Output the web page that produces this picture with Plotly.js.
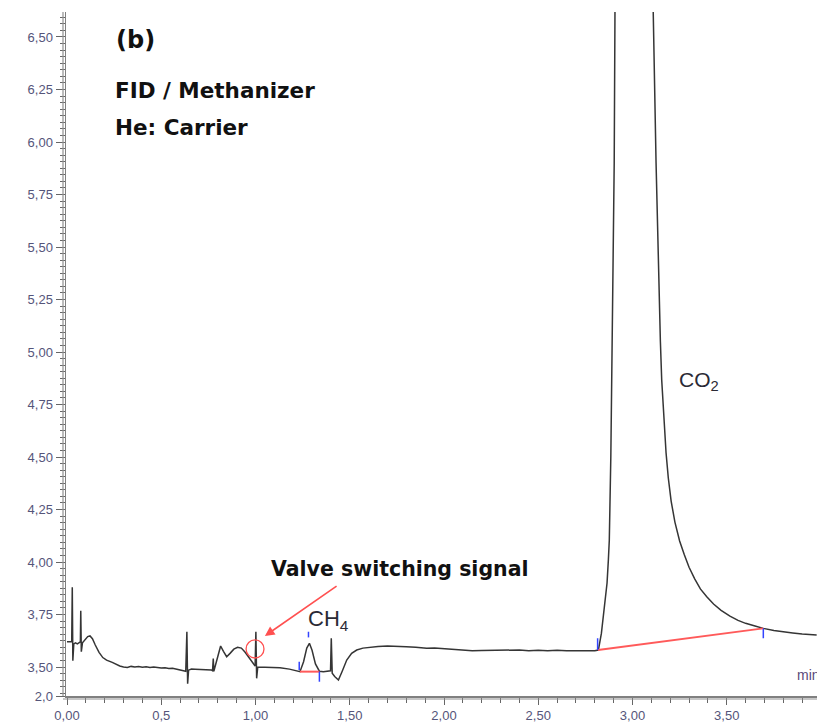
<!DOCTYPE html>
<html>
<head>
<meta charset="utf-8">
<script src="https://cdn.plot.ly/plotly-3.0.1.min.js"></script>
<style>html,body{margin:0;padding:0;background:#fff;overflow:hidden}#chart{width:817px;height:725px}</style>
</head>
<body>
<div id="chart"></div>
<script>
// Chromatogram signal (time in min, signal)
const timeMin = [0.000,0.015,0.025,0.028,0.031,0.036,0.045,0.055,0.068,0.071,0.073,0.076,0.082,0.095,0.110,0.122,0.135,0.150,0.170,0.190,0.210,0.240,0.260,0.280,0.300,0.320,0.340,0.360,0.380,0.400,0.420,0.440,0.460,0.480,0.500,0.520,0.540,0.560,0.580,0.600,0.620,0.630,0.636,0.640,0.645,0.660,0.680,0.700,0.720,0.740,0.765,0.772,0.776,0.779,0.785,0.800,0.815,0.830,0.847,0.865,0.885,0.905,0.925,0.945,0.962,0.985,0.998,1.002,1.006,1.012,1.040,1.080,1.130,1.180,1.220,1.236,1.255,1.272,1.286,1.300,1.318,1.339,1.360,1.380,1.398,1.402,1.407,1.420,1.440,1.460,1.484,1.510,1.537,1.570,1.607,1.650,1.700,1.749,1.800,1.850,1.908,1.950,2.000,2.050,2.100,2.150,2.200,2.250,2.300,2.350,2.400,2.450,2.500,2.550,2.600,2.650,2.700,2.750,2.800,2.819,2.835,2.845,2.854,2.865,2.872,2.877,2.885,2.892,2.898,2.903,2.907,2.915,2.950,2.990,3.040,3.080,3.110,3.125,3.141,3.148,3.155,3.165,3.178,3.190,3.205,3.225,3.250,3.275,3.300,3.330,3.360,3.394,3.430,3.470,3.517,3.560,3.600,3.650,3.694,3.750,3.800,3.850,3.900,3.977];
const signal = [3.620,3.622,3.620,3.880,3.530,3.610,3.615,3.610,3.617,3.620,3.768,3.573,3.615,3.630,3.645,3.648,3.635,3.605,3.570,3.545,3.533,3.522,3.512,3.505,3.500,3.498,3.503,3.500,3.502,3.499,3.501,3.498,3.500,3.497,3.495,3.497,3.493,3.494,3.490,3.488,3.482,3.480,3.668,3.420,3.485,3.490,3.489,3.488,3.486,3.485,3.486,3.482,3.540,3.480,3.500,3.560,3.600,3.575,3.549,3.565,3.585,3.594,3.590,3.570,3.550,3.520,3.505,3.668,3.446,3.500,3.499,3.498,3.496,3.490,3.484,3.478,3.525,3.590,3.613,3.580,3.515,3.480,3.478,3.480,3.482,3.637,3.470,3.455,3.438,3.480,3.533,3.565,3.581,3.590,3.594,3.598,3.600,3.600,3.597,3.594,3.589,3.590,3.586,3.582,3.578,3.577,3.579,3.580,3.581,3.579,3.581,3.578,3.580,3.578,3.580,3.577,3.579,3.578,3.578,3.581,3.660,3.740,3.787,3.900,4.010,4.105,4.500,4.950,5.343,5.900,6.619,8.500,14.000,16.000,13.000,9.500,6.619,5.900,5.248,5.050,4.867,4.700,4.520,4.400,4.290,4.190,4.100,4.035,3.975,3.920,3.872,3.835,3.800,3.770,3.742,3.722,3.708,3.695,3.684,3.674,3.667,3.662,3.657,3.652];

// Integration baselines (red)
const baseCH4_x = [1.236, 1.339];
const baseCH4_y = [3.478, 3.478];
const baseCO2_x = [2.817, 3.694];
const baseCO2_y = [3.581, 3.684];

// Peak markers (blue ticks)
const markX = [1.232,1.232,null,1.281,1.281,null,1.339,1.339,null,2.815,2.815,null,3.694,3.694];
const markY = [3.525,3.486,null,3.668,3.641,null,3.478,3.430,null,3.637,3.581,null,3.684,3.637];

// Axis ticks
const yTickVals = [3.362,3.50,3.75,4.00,4.25,4.50,4.75,5.00,5.25,5.50,5.75,6.00,6.25,6.50];
const yTickText = ["2,0","3,50","3,75","4,00","4,25","4,50","4,75","5,00","5,25","5,50","5,75","6,00","6,25","6,50"];
const xTickVals = [0,0.5,1.0,1.5,2.0,2.5,3.0,3.5];
const xTickText = ["0,00","0,5","1,00","1,50","2,00","2,50","3,00","3,50"];

const traces = [
  {x: timeMin, y: signal, type:'scatter', mode:'lines', line:{color:'#353535', width:1.5}, hoverinfo:'skip'},
  {x: baseCH4_x, y: baseCH4_y, type:'scatter', mode:'lines', line:{color:'#ff5a5a', width:2}, hoverinfo:'skip'},
  {x: baseCO2_x, y: baseCO2_y, type:'scatter', mode:'lines', line:{color:'#ff5a5a', width:2}, hoverinfo:'skip'},
  {x: markX, y: markY, type:'scatter', mode:'lines', line:{color:'#3344ff', width:1.5}, hoverinfo:'skip', connectgaps:false}
];

const tickFont = {family:'"Liberation Sans", Arial, sans-serif', size:13, color:'#55557a'};
const boldFont = (s)=>({family:'"DejaVu Sans", sans-serif', size:s, color:'#111'});

const layout = {
  width:817, height:725,
  margin:{l:66, r:0, t:12, b:29},
  paper_bgcolor:'#fff', plot_bgcolor:'#fff',
  showlegend:false,
  xaxis:{
    range:[-0.0053, 3.9788], showgrid:false, zeroline:false,
    showline:true, linecolor:'#808080', linewidth:1.5,
    tickmode:'array', tickvals:xTickVals, ticktext:xTickText,
    ticks:'outside', ticklen:7, tickcolor:'#666', tickwidth:1,
    tickfont:tickFont,
    minor:{dtick:0.1, tick0:0, ticklen:5, tickcolor:'#666', ticks:'outside', showgrid:false}
  },
  yaxis:{
    range:[3.362, 6.619], showgrid:false, zeroline:false,
    showline:true, linecolor:'#808080', linewidth:1.5,
    tickmode:'array', tickvals:yTickVals, ticktext:yTickText,
    ticks:'outside', ticklen:9, tickcolor:'#666', tickwidth:1,
    tickfont:tickFont,
    minor:{dtick:0.03125, tick0:3.5, ticklen:5, tickcolor:'#666', ticks:'outside', showgrid:false}
  },
  shapes:[
    {type:'line', xref:'paper', yref:'paper', xsizemode:'pixel', xanchor:0, x0:-3, x1:-3, y0:0, y1:1, line:{color:'#909090', width:1.2}},
    {type:'line', xref:'paper', yref:'paper', xsizemode:'pixel', ysizemode:'pixel', xanchor:0, yanchor:0, x0:-3, x1:760, y0:-3, y1:-3, line:{color:'#909090', width:1.2}},
    {type:'circle', xref:'x', yref:'y', x0:0.950, x1:1.045, y0:3.543, y1:3.629, line:{color:'#ff5050', width:1.3}}
  ],
  annotations:[
    {xref:'paper', yref:'paper', x:0.0640, y:0.959, xanchor:'left', yanchor:'middle', showarrow:false, text:'<b>(b)</b>', font:boldFont(24)},
    {xref:'paper', yref:'paper', x:0.0625, y:0.8847, xanchor:'left', yanchor:'middle', showarrow:false, text:'<b>FID / Methanizer</b>', font:boldFont(21.5)},
    {xref:'paper', yref:'paper', x:0.0625, y:0.8307, xanchor:'left', yanchor:'middle', showarrow:false, text:'<b>He: Carrier</b>', font:boldFont(21.5)},
    {xref:'paper', yref:'paper', x:0.2700, y:0.1854, xanchor:'left', yanchor:'middle', showarrow:false, text:'<b>Valve switching signal</b>', font:boldFont(20.5)},
    {xref:'x', yref:'y', x:1.050, y:3.648, ax:1.438, ay:3.890, axref:'x', ayref:'y', text:'', showarrow:true, arrowhead:2, arrowsize:1.2, arrowwidth:1.6, arrowcolor:'#ff5050', standoff:0},
    {xref:'paper', yref:'paper', x:0.320, y:0.111, xanchor:'left', yanchor:'middle', showarrow:false, text:'CH<sub>4</sub>', font:{family:'"Liberation Sans", Arial, sans-serif', size:22, color:'#2a2a35'}},
    {xref:'paper', yref:'paper', x:0.8140, y:0.4599, xanchor:'left', yanchor:'middle', showarrow:false, text:'CO<sub>2</sub>', font:{family:'"Liberation Sans", Arial, sans-serif', size:21, color:'#2a2a35'}},
    {xref:'paper', yref:'paper', x:0.9707, y:0.0307, xanchor:'left', yanchor:'middle', showarrow:false, text:'min', font:{family:'"Liberation Sans", Arial, sans-serif', size:14, color:'#5a4a7a'}}
  ]
};

Plotly.newPlot('chart', traces, layout, {staticPlot:true, displayModeBar:false});
</script>
</body>
</html>
